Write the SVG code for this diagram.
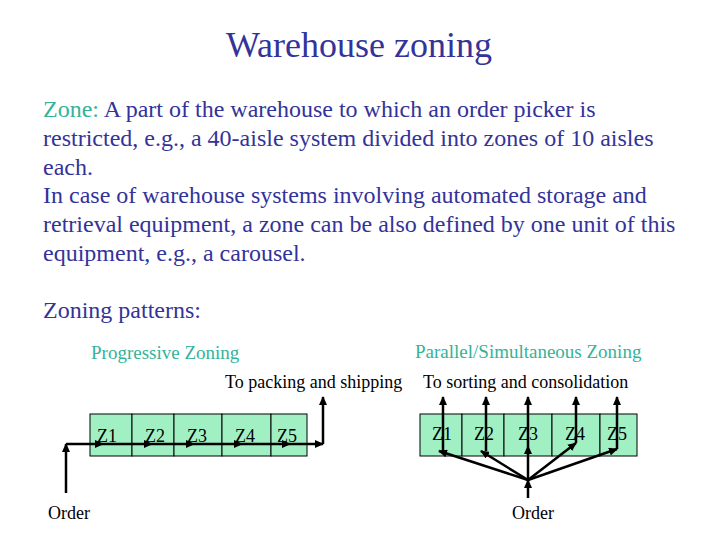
<svg xmlns="http://www.w3.org/2000/svg" width="720" height="540" viewBox="0 0 720 540" font-family="'Liberation Serif', 'Times New Roman', serif">
<style>
text,tspan{font-family:"Liberation Serif","Times New Roman",serif}
.title{font-size:36px;fill:#333399}
.body{font-size:24px;fill:#333399}
.teal{fill:#33b39a}
.hdr{font-size:19px;fill:#33b39a}
.lbl{font-size:18px;fill:#000}
.z{font-size:18px;fill:#000}
.box{fill:#a0f0c4;stroke:#000;stroke-width:1}
.con line{stroke:#000;stroke-width:2.5;marker-end:url(#ah)}
</style>
<defs>
<marker id="ah" markerUnits="userSpaceOnUse" markerWidth="10" markerHeight="8" refX="8" refY="4" orient="auto">
<path d="M0,0 L9,4 L0,8 z" fill="#000"/>
</marker>
</defs>
<rect width="720" height="540" fill="#fff"/>
<text class="title" x="359" y="57" text-anchor="middle">Warehouse zoning</text>
<g id="body">
<text class="body" x="43" y="117"><tspan class="teal">Zone:</tspan> A part of the warehouse to which an order picker is</text>
<text class="body" x="43" y="146">restricted, e.g., a 40-aisle system divided into zones of 10 aisles</text>
<text class="body" x="43" y="175">each.</text>
<text class="body" x="43" y="203">In case of warehouse systems involving automated storage and</text>
<text class="body" x="43" y="232">retrieval equipment, a zone can be also defined by one unit of this</text>
<text class="body" x="43" y="261">equipment, e.g., a carousel.</text>
<text class="body" x="43" y="318">Zoning patterns:</text>
</g>
<g id="progressive">
<text class="hdr" x="91" y="359">Progressive Zoning</text>
<text class="lbl" x="225" y="388">To packing and shipping</text>
<g id="pz1"><rect class="box" x="90" y="414" width="42" height="42"/><text class="z" x="97" y="442">Z1</text></g>
<g id="pz2"><rect class="box" x="132" y="414" width="42" height="42"/><text class="z" x="145" y="442">Z2</text></g>
<g id="pz3"><rect class="box" x="174" y="414" width="48" height="42"/><text class="z" x="187" y="442">Z3</text></g>
<g id="pz4"><rect class="box" x="222" y="414" width="49" height="42"/><text class="z" x="235" y="442">Z4</text></g>
<g id="pz5"><rect class="box" x="271" y="414" width="36" height="42"/><text class="z" x="277" y="442">Z5</text></g>
<text class="lbl" x="48" y="519">Order</text>
</g>
<g id="parallel">
<text class="hdr" x="415" y="358">Parallel/Simultaneous Zoning</text>
<text class="lbl" x="423" y="388">To sorting and consolidation</text>
<g id="sz1"><rect class="box" x="420" y="414" width="42" height="42"/><text class="z" x="432" y="440">Z1</text></g>
<g id="sz2"><rect class="box" x="462" y="414" width="42" height="42"/><text class="z" x="474" y="440">Z2</text></g>
<g id="sz3"><rect class="box" x="504" y="414" width="48" height="42"/><text class="z" x="518" y="440">Z3</text></g>
<g id="sz4"><rect class="box" x="552" y="414" width="48" height="42"/><text class="z" x="565" y="440">Z4</text></g>
<g id="sz5"><rect class="box" x="600" y="414" width="37" height="42"/><text class="z" x="607" y="440">Z5</text></g>
<text class="lbl" x="512" y="519">Order</text>
</g>
<g id="connectors" class="con">
<line x1="66" y1="493" x2="66" y2="444"/>
<line x1="66" y1="444" x2="103" y2="444"/>
<line x1="103" y1="444" x2="152" y2="444"/>
<line x1="152" y1="444" x2="194" y2="444"/>
<line x1="194" y1="444" x2="242" y2="444"/>
<line x1="242" y1="444" x2="290" y2="444"/>
<line x1="290" y1="444" x2="323" y2="444"/>
<line x1="323" y1="444" x2="323" y2="397"/>
<line x1="528" y1="498" x2="528" y2="480"/>
<line x1="528" y1="480" x2="439" y2="451"/>
<line x1="528" y1="480" x2="481" y2="451"/>
<line x1="528" y1="480" x2="528" y2="446"/>
<line x1="528" y1="480" x2="576" y2="443"/>
<line x1="528" y1="480" x2="617" y2="449"/>
<line x1="443" y1="451" x2="443" y2="397"/>
<line x1="486" y1="451" x2="486" y2="397"/>
<line x1="528" y1="446" x2="528" y2="397"/>
<line x1="576" y1="443" x2="576" y2="397"/>
<line x1="617" y1="449" x2="617" y2="397"/>
</g>
</svg>
